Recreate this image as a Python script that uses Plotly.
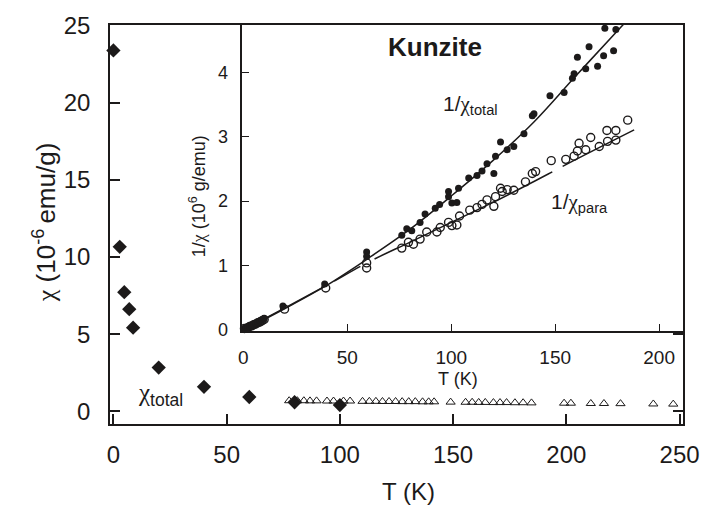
import plotly.graph_objects as go

# ---------------- main plot data: chi vs T ----------------
diamond_T = [0, 2.8, 4.8, 7.0, 8.7, 20, 40, 60, 80, 100]
diamond_chi = [23.4, 10.66, 7.72, 6.62, 5.42, 2.83, 1.58, 0.92, 0.58, 0.4]

tri_T = [77.6, 81.2, 84.1, 86.8, 89.7, 94.3, 97.2, 101.6, 104.5, 110, 113, 115.9,
         118.8, 121.7, 124.6, 127.5, 130.4, 133.3, 136.5, 139.2, 141.6, 148.9,
         155.5, 158.4, 161.3, 164.2, 167.8, 170.7, 173.6, 177.3, 180.9, 184.6,
         199, 202, 210.8, 216.6, 223.9, 238.4, 247.2]
tri_chi = [0.68, 0.68, 0.68, 0.67, 0.67, 0.66, 0.66, 0.66, 0.66, 0.64, 0.64, 0.64,
           0.63, 0.63, 0.63, 0.62, 0.62, 0.62, 0.61, 0.61, 0.61, 0.59,
           0.58, 0.58, 0.57, 0.57, 0.56, 0.56, 0.56, 0.55, 0.55, 0.54,
           0.52, 0.52, 0.5, 0.5, 0.49, 0.47, 0.46]

main_xticks = [0, 50, 100, 150, 200, 250]
main_yticks = [0, 5, 10, 15, 20, 25]

# ---------------- inset data: 1/chi vs T ----------------
tot_T = [0.5, 1, 2, 3, 4, 5, 6, 7, 8, 9, 10, 19, 39.1, 59.3, 59.3, 76.2, 78.6, 81, 85,
         87.4, 92.3, 94.4, 98.7, 98.7, 100.3, 102.7, 103.5, 108.4, 112.4, 114.8,
         117.2, 120.5, 121.3, 123.7, 126.9, 130.1, 135, 139, 139.8, 147.5, 154.3,
         158.3, 159.1, 160.7, 164.7, 166.3, 170.4, 173.3, 178.1, 173.9, 179.2]
tot_v = [0.02, 0.03, 0.04, 0.05, 0.07, 0.09, 0.1, 0.12, 0.14, 0.15, 0.17, 0.37, 0.71,
         1.21, 1.14, 1.47, 1.57, 1.54, 1.67, 1.8, 1.89, 1.95, 2.07, 2.15, 1.97, 1.98,
         2.2, 2.36, 2.4, 2.47, 2.58, 2.43, 2.7, 2.92, 2.8, 2.85, 3.05, 3.33, 3.36,
         3.64, 3.69, 3.91, 3.98, 4.24, 4.06, 4.4, 4.1, 4.26, 4.34, 4.69, 4.67]

para_T = [0.5, 2, 3, 4, 5, 6, 7, 8, 9, 10, 19.8, 39.6, 59.3, 59.3, 76.2, 79.4, 81.8,
          85, 88.2, 93.1, 94.7, 98.7, 100.3, 102.7, 104, 108.9, 112.4, 114.8, 117.2,
          120.5, 121.3, 123.7, 124.5, 126.9, 130.1, 135.7, 139, 140.6, 148.1, 155.1,
          159.1, 160.7, 161.5, 164.7, 167.1, 171.2, 174.9, 175.2, 179.2, 179.2, 184.9]
para_v = [0.02, 0.03, 0.05, 0.06, 0.08, 0.09, 0.11, 0.12, 0.14, 0.16, 0.32, 0.65,
          0.96, 1.04, 1.27, 1.36, 1.33, 1.41, 1.52, 1.52, 1.59, 1.67, 1.62, 1.63,
          1.77, 1.86, 1.9, 1.95, 2.02, 1.92, 2.07, 2.2, 2.15, 2.18, 2.17, 2.3, 2.43,
          2.46, 2.63, 2.65, 2.7, 2.78, 2.9, 2.8, 2.99, 2.85, 3.1, 2.93, 3.1, 2.95, 3.26]

# fitted curves
tot_fit_T = [0, 10, 20, 40, 60, 80, 100, 120, 140, 160, 180, 190]
tot_fit_v = [0, 0.16, 0.33, 0.69, 1.11, 1.56, 2.08, 2.63, 3.24, 3.95, 4.65, 5.0]
para_fit_T = [0, 20, 40, 60, 80, 100, 120, 140, 160, 188]
para_fit_v = [0, 0.34, 0.69, 1.05, 1.36, 1.67, 1.98, 2.31, 2.65, 3.11]

inset_xticks = [0, 50, 100, 150, 200]
inset_yticks = [0, 1, 2, 3, 4]

FONT = "Liberation Sans, Arial, sans-serif"
INK = "#1c1a1a"
CHI = '<span style="font-family:Liberation Serif, DejaVu Serif, serif">χ</span>'

fig = go.Figure()

# main plot
fig.add_trace(go.Scatter(x=tri_T, y=tri_chi, mode="markers", xaxis="x", yaxis="y",
                         marker=dict(symbol="triangle-up-open", size=8, color=INK,
                                     line=dict(width=1, color=INK)),
                         cliponaxis=False, showlegend=False))
fig.add_trace(go.Scatter(x=diamond_T, y=diamond_chi, mode="markers", xaxis="x", yaxis="y",
                         marker=dict(symbol="diamond", size=11, color=INK),
                         cliponaxis=False, showlegend=False))

# inset
fig.add_trace(go.Scatter(x=tot_fit_T, y=tot_fit_v, mode="lines", xaxis="x2", yaxis="y2",
                         line=dict(color=INK, width=1.5, shape="spline"), showlegend=False))
fig.add_trace(go.Scatter(x=para_fit_T, y=para_fit_v, mode="lines", xaxis="x2", yaxis="y2",
                         line=dict(color=INK, width=1.5, shape="spline",
                                   dash="96px,7px,30px,16px,198px,12px,200px"),
                         showlegend=False))
fig.add_trace(go.Scatter(x=para_T, y=para_v, mode="markers", xaxis="x2", yaxis="y2",
                         marker=dict(symbol="circle-open", size=8, color=INK,
                                     line=dict(width=1.4, color=INK)),
                         cliponaxis=False, showlegend=False))
fig.add_trace(go.Scatter(x=tot_T, y=tot_v, mode="markers", xaxis="x2", yaxis="y2",
                         marker=dict(symbol="circle", size=7, color=INK),
                         cliponaxis=False, showlegend=False))

axis_common = dict(showline=True, linecolor=INK, showgrid=False, zeroline=False,
                   ticks="inside", tickcolor=INK)

fig.update_layout(
    width=712, height=509,
    margin=dict(l=110, r=26, t=17, b=85),
    paper_bgcolor="white", plot_bgcolor="white",
    font=dict(family=FONT, color=INK),
    xaxis=dict(domain=[0, 1], range=[-1.5, 251.5], tickvals=main_xticks,
               ticklen=10, tickwidth=1.5, linewidth=1.6, mirror=True,
               tickfont=dict(size=24), ticklabelstandoff=8, anchor="y",
               **axis_common),
    yaxis=dict(domain=[0, 1], range=[-0.83, 25.05], tickvals=main_yticks,
               ticklen=10, tickwidth=1.5, linewidth=1.6, mirror="ticks",
               tickfont=dict(size=24), ticklabelstandoff=13, anchor="x",
               **axis_common),
    xaxis2=dict(domain=[0.231, 1], range=[-0.5, 211.5], tickvals=inset_xticks,
                ticklen=7, tickwidth=1.3, linewidth=1.5, anchor="y2",
                tickfont=dict(size=19), ticklabelstandoff=8, **axis_common),
    yaxis2=dict(domain=[0.233, 1], range=[-0.02, 4.74], tickvals=inset_yticks,
                ticklen=7, tickwidth=1.3, linewidth=1.5, anchor="x2",
                tickfont=dict(size=18), ticklabelstandoff=9, **axis_common),
)

annotations = [
    # main axis titles
    dict(text=CHI + " (10<sup>-6 </sup>emu/g)", x=-0.115, y=0.506, xref="paper", yref="paper",
         textangle=-90, showarrow=False, font=dict(size=26), xanchor="center", yanchor="middle"),
    dict(text="T (K)", x=0.521, y=-0.17, xref="paper", yref="paper",
         showarrow=False, font=dict(size=24), xanchor="center", yanchor="middle"),
    # inset axis titles
    dict(text="T (K)", x=0.608, y=0.113, xref="paper", yref="paper",
         showarrow=False, font=dict(size=18), xanchor="center", yanchor="middle"),
    dict(text="1/" + CHI + " (10<sup>6</sup> g/emu)", x=0.153, y=0.57, xref="paper", yref="paper",
         textangle=-90, showarrow=False, font=dict(size=18), xanchor="center", yanchor="middle"),
    # labels
    dict(text="<b>Kunzite</b>", x=0.568, y=0.945, xref="paper", yref="paper",
         showarrow=False, font=dict(size=26), xanchor="center", yanchor="middle"),
    dict(text="1/" + CHI + "<sub>total</sub>", x=0.63, y=0.8, xref="paper", yref="paper",
         showarrow=False, font=dict(size=21), xanchor="center", yanchor="middle"),
    dict(text="1/" + CHI + "<sub>para</sub>", x=0.82, y=0.555, xref="paper", yref="paper",
         showarrow=False, font=dict(size=21), xanchor="center", yanchor="middle"),
    dict(text=CHI + "<sub>total</sub>", x=0.089, y=0.075, xref="paper", yref="paper",
         showarrow=False, font=dict(size=25), xanchor="center", yanchor="middle"),
]
fig.update_layout(annotations=annotations)

fig.write_html("out.html")
